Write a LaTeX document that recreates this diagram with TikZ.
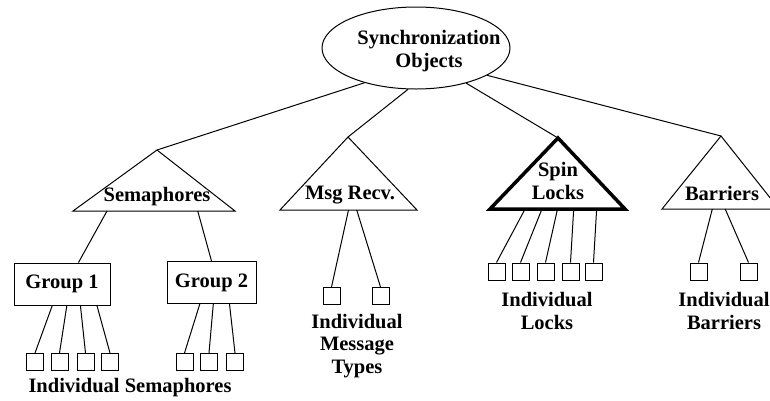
\documentclass[tikz,border=0pt]{standalone}
\usepackage{fontspec}
\setmainfont{Liberation Serif}
\usetikzlibrary{shapes.geometric}
\usetikzlibrary{calc}

\begin{document}
\begin{tikzpicture}
	[x=1pt, y=-1pt, line width=1pt,
	 txt/.style = {font=\fontsize{20.5}{22.5}\selectfont\bfseries, align=center, inner sep=0pt},
	 group/.style = {draw, txt, minimum height=42pt},
	 leaf/.style = {draw, minimum size=17pt, inner sep=0pt}]
	\useasboundingbox (0,0) rectangle (770,400);
	\clip (0,0) rectangle (770,400);
	\node[ellipse, draw, minimum width=188pt, minimum height=82pt] (sync) at (416,48) {};
	\node[txt] (synclbl) at (429,51) {Synchronization\\Objects};
	% the four triangles
	\coordinate (semT) at (157,150); \coordinate (semL) at (73,211); \coordinate (semR) at (235,211);
	\coordinate (msgT) at (348,137); \coordinate (msgL) at (280,210); \coordinate (msgR) at (417,210);
	\coordinate (spinT) at (558,138); \coordinate (spinL) at (490,209); \coordinate (spinR) at (625,209);
	\coordinate (barT) at (721,136); \coordinate (barL) at (662,209); \coordinate (barR) at (779,209);
	\draw (semT) -- (semR) -- (semL) -- cycle;
	\draw (msgT) -- (msgR) -- (msgL) -- cycle;
	\draw[line width=3.5pt] (spinT) -- (spinR) -- (spinL) -- cycle;
	\draw (barT) -- (barR) -- (barL) -- cycle;
	\node[txt] (sem) at (157,197) {Semaphores};
	\node[txt] (msg) at (350,195) {Msg Recv.};
	\node[txt] (spin) at (558,181) {Spin\\Locks};
	\node[txt] (bar) at (722,193) {Barriers};
	\draw (sync.214) -- (semT);
	\draw (sync.259) -- (msgT);
	\draw (sync.325) -- (spinT);
	\draw (sync.339) -- (barT);
	% semaphore groups
	\node[group, minimum width=96pt] (g1) at (62,284) {Group 1};
	\node[group, minimum width=89pt] (g2) at (211.5,282.5) {Group 2};
	\draw ($(semL)!0.21!(semR)$) -- ($(g1.north west)!0.67!(g1.north east)$);
	\draw ($(semL)!0.77!(semR)$) -- (g2.north);
	\foreach \n/\x in {1/35, 2/59.5, 3/85.5, 4/110, 5/184.5, 6/209, 7/235}
		\node[leaf] (s\n) at (\x,362) {};
	\foreach \n/\f in {1/0.40, 2/0.55, 3/0.69, 4/0.86}
		\draw ($(g1.south west)!\f!(g1.south east)$) -- (s\n.north);
	\foreach \n/\f in {5/0.37, 6/0.52, 7/0.70}
		\draw ($(g2.south west)!\f!(g2.south east)$) -- (s\n.north);
	\node[txt] (semlbl) at (130,388) {Individual Semaphores};
	% message types
	\node[leaf] (m1) at (331.5,296) {};
	\node[leaf] (m2) at (380.5,296) {};
	\draw ($(msgL)!0.50!(msgR)$) -- (m1.north);
	\draw ($(msgL)!0.56!(msgR)$) -- (m2.north);
	\node[txt] (msglbl) at (357,346) {Individual\\Message\\Types};
	% locks
	\foreach \n/\x/\f in {1/496.5/0.26, 2/520.5/0.385, 3/545.5/0.50, 4/570.5/0.62, 5/593.5/0.79} {
		\node[leaf] (l\n) at (\x,271.5) {};
		\draw ($(spinL)!\f!(spinR)$) -- (l\n.north);
	}
	\node[txt] (locklbl) at (547,311) {Individual\\Locks};
	% barriers
	\foreach \n/\x/\f in {1/698.5/0.43, 2/748.5/0.54} {
		\node[leaf] (b\n) at (\x,271.5) {};
		\draw ($(barL)!\f!(barR)$) -- (b\n.north);
	}
	\node[txt] (barlbl) at (724,311) {Individual\\Barriers};
\end{tikzpicture}
\end{document}
